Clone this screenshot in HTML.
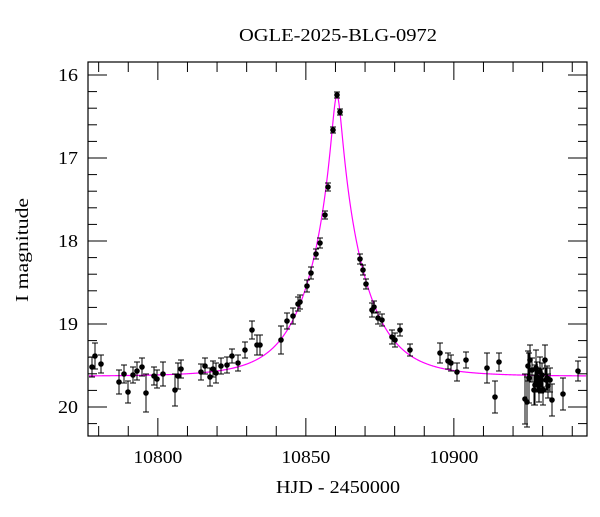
<!DOCTYPE html>
<html><head><meta charset="utf-8"><style>
body{margin:0;background:#fff}
svg text{font-family:"Liberation Serif","DejaVu Serif",serif;fill:#000}
</style></head><body>
<svg id="s" width="600" height="512" xmlns="http://www.w3.org/2000/svg">
<text x="338" y="41" font-size="18" text-anchor="middle" textLength="198" lengthAdjust="spacingAndGlyphs">OGLE-2025-BLG-0972</text>
<text x="338" y="493" font-size="18" text-anchor="middle" textLength="124" lengthAdjust="spacingAndGlyphs">HJD - 2450000</text>
<text transform="translate(28,250) rotate(-90)" font-size="18" text-anchor="middle" textLength="104" lengthAdjust="spacingAndGlyphs">I magnitude</text>
<g id="g"></g>
<rect x="88" y="62" width="499" height="374" fill="none" stroke="#000" stroke-width="1.2"/>
</svg>
<script>
var g=document.getElementById('g'),h='';
function X(t){return 88+(t-10776.4)*2.96}
function Y(m){return 75+(m-16)*83}
for(var t=10780;t<=10940;t+=10){var x=X(t),L=(t%50==0)?18:10;
h+='<line x1="'+x+'" y1="436" x2="'+x+'" y2="'+(436-L)+'" stroke="#000"/>';
h+='<line x1="'+x+'" y1="62" x2="'+x+'" y2="'+(62+L)+'" stroke="#000"/>';
if(t%50==0)h+='<text x="'+x+'" y="463" font-size="18" text-anchor="middle" textLength="49" lengthAdjust="spacingAndGlyphs">'+t+'</text>';}
for(var i=0;i<=22;i++){var m=15.8+i*0.2;var y=Y(m);if(y<62||y>436)continue;var maj=Math.abs(m-Math.round(m))<0.01;var L=maj?19:9;
h+='<line x1="88" y1="'+y+'" x2="'+(88+L)+'" y2="'+y+'" stroke="#000"/>';
h+='<line x1="587" y1="'+y+'" x2="'+(587-L)+'" y2="'+y+'" stroke="#000"/>';
if(maj)h+='<text x="78" y="'+(y+6)+'" font-size="18" text-anchor="end" textLength="20" lengthAdjust="spacingAndGlyphs">'+Math.round(m)+'</text>';}
var p='';for(var x=89;x<=586;x+=0.5){var t=10776.4+(x-88)/2.96;var tau=(t-10860.5)/15;var u=Math.sqrt(0.105*0.105+tau*tau);
var A=(u*u+2)/(u*Math.sqrt(u*u+4));var F=1+2.52*(A-1);var m=19.63-2.5*Math.log10(F);p+=(p?'L':'M')+x+','+Y(m).toFixed(2);}
h+='<path d="'+p+'" fill="none" stroke="#f0f" stroke-width="1.2"/>';
var d=[[92,367,10],[95,356,13],[101,364,9],[119,382,12],[124,374,9],[128,392,11],[133,375,8],[137,371,9],[142,367,9],[146,393,19],[154,376,9],[157,379,9],[163,374,12],[175,390,16],[178,376,13],[181,369,9],[201,372,8],[205,366,8],[210,377,9],[213,369,8],[216,373,10],[221,366,8],[227,365,8],[232,356,7],[238,363,8],[245,350,8],[252,330,9],[257,345,10],[260,345,10],[281,340,14],[287,321,8],[293,316,8],[298,304,7],[300,302,7],[307,286,6],[311,273,6],[316,254,5],[320,243,5],[325,215,4],[328,187,4],[333,130,3],[337,95,3],[340,112,3],
[360,259,5],[363,270,5],[366,284,5],[372,310,7],[374,307,6],[378,318,6],[382,320,6],[392,337,7],[395,340,7],[400,330,6],[410,350,6],[440,353,10],[448,361,8],[451,363,8],[457,372,9],[466,360,8],[487,368,15],[495,397,16],[499,362,9],[525,399,25],[527,402,25],[528,366,15],[529,378,25],[530,360,15],[532,370,12],[534,390,15],[535,385,20],[536,368,18],[537,377,15],[538,380,12],[539,390,12],[540,372,15],[541,381,12],[542,375,12],[543,390,15],[545,360,15],[546,380,12],[547,378,12],[548,386,12],[550,380,12],[552,400,16],[563,394,16],[578,371,10]];
d.forEach(function(q){var x=q[0],y=q[1],e=q[2];
h+='<path d="M'+x+','+(y-e)+'V'+(y+e)+'M'+(x-3)+','+(y-e)+'h6M'+(x-3)+','+(y+e)+'h6" stroke="#000" stroke-width="1"/>';
h+='<circle cx="'+x+'" cy="'+y+'" r="2.8" fill="#000"/>';});
g.innerHTML=h;
</script>
</body></html>
